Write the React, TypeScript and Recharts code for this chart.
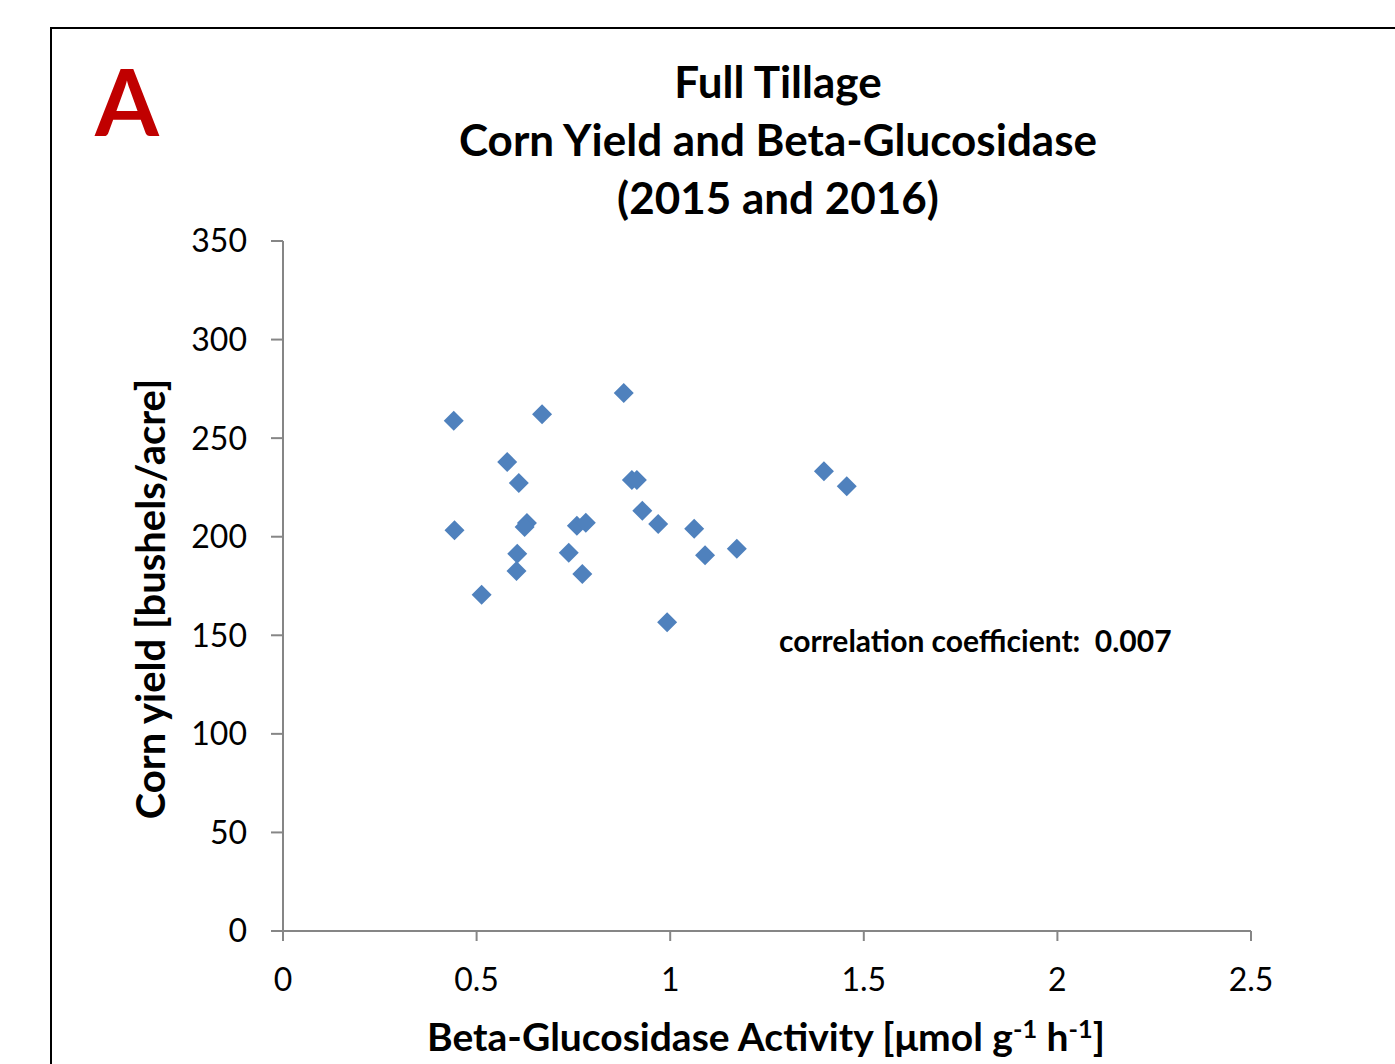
import React from "react";
import { ScatterChart, Scatter, XAxis, YAxis } from "recharts";

const activity = [0.441, 0.669, 0.880, 0.579, 0.609, 0.443, 0.630, 0.624, 0.759, 0.782, 0.901, 0.914, 0.928, 0.969, 1.062, 1.090, 0.605, 0.603, 0.738, 0.773, 0.513, 0.992, 1.172, 1.397, 1.456];
const yieldVals = [258.8, 262.1, 272.9, 237.9, 227.2, 203.3, 207.0, 204.9, 205.6, 207.1, 228.8, 228.8, 213.2, 206.4, 204.1, 190.6, 191.4, 182.6, 191.9, 181.1, 170.6, 156.6, 193.9, 233.2, 225.6];
const xTicks = [0, 0.5, 1, 1.5, 2, 2.5];
const yTicks = [0, 50, 100, 150, 200, 250, 300, 350];

const points = activity.map((x, i) => ({ x, y: yieldVals[i] }));

const FONT = "Lato, 'Open Sans', sans-serif";
const AXIS = "#868686";
const BLUE = "#4F81BD";

const Diamond = (props: any) => {
  const { cx, cy } = props;
  const r = 10;
  return <path d={`M${cx},${cy - r}L${cx + r},${cy}L${cx},${cy + r}L${cx - r},${cy}Z`} fill={BLUE} />;
};

const fmtX = (v: number) => String(v);

export default function App() {
  return (
    <div style={{ position: "fixed", left: 0, top: 0, width: 1395, height: 1064, overflow: "hidden", background: "#fff", fontFamily: FONT }}>
      <div style={{ position: "absolute", left: 50, top: 27, width: 1500, height: 1200, border: "2px solid #000", boxSizing: "border-box" }} />
      <div style={{ position: "absolute", left: 0, top: 0 }}>
        <ScatterChart width={1395} height={1064} margin={{ left: 203, right: 144, top: 241, bottom: 73 }}>
          <XAxis
            type="number"
            dataKey="x"
            domain={[0, 2.5]}
            ticks={xTicks}
            tickFormatter={fmtX}
            height={60}
            stroke={AXIS}
            strokeWidth={2}
            tickSize={10}
            tickMargin={27}
            tick={{ fill: "#000", fontSize: 32, fontFamily: FONT }}
            interval={0}
          />
          <YAxis
            type="number"
            dataKey="y"
            domain={[0, 350]}
            ticks={yTicks}
            width={80}
            stroke={AXIS}
            strokeWidth={2}
            tickSize={12}
            tickMargin={24}
            tick={{ fill: "#000", fontSize: 32, fontFamily: FONT }}
            interval={0}
          />
          <Scatter data={points} shape={<Diamond />} isAnimationActive={false} />
        </ScatterChart>
      </div>
      <div style={{ position: "absolute", left: 95, top: 46, color: "#C00000", fontWeight: 700, fontSize: 92, lineHeight: "110px" }}>A</div>
      <div style={{ position: "absolute", left: 378, width: 800, top: 52, textAlign: "center", fontWeight: 700, fontSize: 44, lineHeight: "58px", color: "#000", whiteSpace: "nowrap" }}>
        <div>Full Tillage</div>
        <div>Corn Yield and Beta-Glucosidase</div>
        <div>(2015 and 2016)</div>
      </div>
      <div style={{ position: "absolute", left: 779, top: 620, fontWeight: 700, fontSize: 30, lineHeight: "40px", color: "#000", whiteSpace: "pre" }}>
        {"correlation coefficient:  0.007"}
      </div>
      <div style={{ position: "absolute", left: 150 - 300, top: 599 - 25, width: 600, height: 50, lineHeight: "50px", textAlign: "center", transform: "rotate(-90deg)", fontWeight: 700, fontSize: 40, color: "#000", whiteSpace: "nowrap" }}>
        Corn yield [bushels/acre]
      </div>
      <div style={{ position: "absolute", left: 366, width: 800, top: 1011, textAlign: "center", fontWeight: 700, fontSize: 39, lineHeight: "50px", color: "#000", whiteSpace: "nowrap" }}>
        Beta-Glucosidase Activity [μmol g<sup style={{ fontSize: "0.65em", lineHeight: 0, verticalAlign: "0.5em" }}>-1</sup> h<sup style={{ fontSize: "0.65em", lineHeight: 0, verticalAlign: "0.5em" }}>-1</sup>]
      </div>
    </div>
  );
}
